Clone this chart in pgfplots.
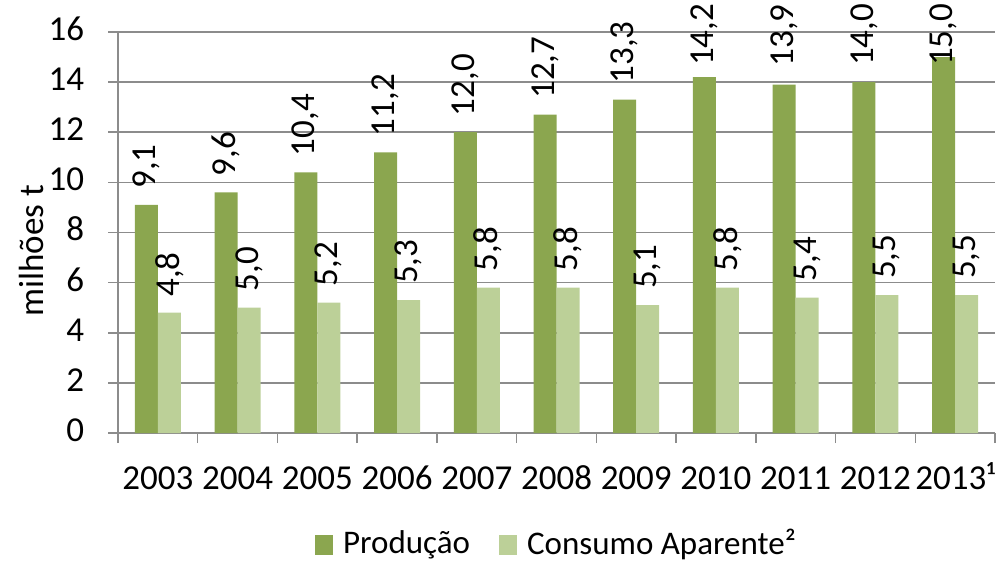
\documentclass[border=0pt]{standalone}
\usepackage{fontspec}
\setmainfont{Carlito}
\usepackage{pgfplots}
\usepackage{pgfplotstable}
\pgfplotsset{compat=1.18}
\definecolor{prod}{HTML}{8BA64F}
\definecolor{cons}{HTML}{BCD098}
\definecolor{gridc}{HTML}{8C8C8C}
\newcommand{\cf}{\fontsize{35bp}{42bp}\selectfont}
\newcommand{\lf}{\fontsize{33bp}{40bp}\selectfont}
% x: category index, y: value, s: label gap (bp)
\pgfplotstableread{
x y s
0 9.1 16
1 9.6 16
2 10.4 16
3 11.2 16
4 12.0 16
5 12.7 16
6 13.3 16
7 14.2 11
8 13.9 18
9 14.0 16
10 15.0 -9
}\prodtab
\pgfplotstableread{
x y s
0 4.8 16
1 5.0 16
2 5.2 16
3 5.3 16
4 5.8 16
5 5.8 16
6 5.1 16
7 5.8 16
8 5.4 16
9 5.5 16
10 5.5 16
}\constab
\begin{document}
\cf
\begin{tikzpicture}
\useasboundingbox (-118bp,-129bp) rectangle (886bp,433bp);
\begin{axis}[
  at={(0,0)}, anchor=south west,
  scale only axis, width=877bp, height=401bp,
  ybar=0pt, bar width=23bp,
  xmin=-0.5, xmax=10.5, ymin=0, ymax=16,
  xtick={0,...,10},
  xticklabels={2003,2004,2005,2006,2007,2008,2009,2010,2011,2012,2013¹},
  minor xtick={-0.5,0.5,...,10.5},
  ytick={0,2,...,16},
  axis x line*=bottom, axis y line*=left,
  ymajorgrids, grid style={gridc, line width=1.5bp},
  axis line style={gridc, line width=1.5bp},
  major x tick style={draw=none},
  minor x tick style={gridc, line width=1.5bp},
  major y tick style={gridc, line width=1.5bp},
  tick align=outside,
  major tick length=10bp, minor tick length=10bp,
  ticklabel style={font=\cf},
  typeset ticklabels with strut,
  xticklabel style={yshift=-5bp},
  yticklabel style={xshift=-12bp},
  /pgf/number format/assume math mode=true,
  ylabel={milhões t},
  ylabel style={font=\cf, at={(axis description cs:-0.0992,0.454)}, anchor=center},
  visualization depends on={\thisrow{s} \as \labsep},
  nodes near coords={\pgfmathprintnumber[fixed,fixed zerofill,precision=1,use comma,assume math mode=true]{\pgfplotspointmeta}},
  every node near coord/.append style={rotate=90, anchor=west, font=\cf, black, inner xsep=\labsep bp},
  legend columns=2,
  legend style={at={(0.5,-0.279)}, anchor=center, draw=none, font=\lf,
    /tikz/every odd column/.append style={column sep=8bp},
    /tikz/every even column/.append style={column sep=27bp}},
  legend image code/.code={\fill[#1] (0bp,-10bp) rectangle (18bp,10bp);},
]
\addplot[fill=prod, draw=none] table[x=x, y=y] {\prodtab};
\addplot[fill=cons, draw=none] table[x=x, y=y] {\constab};
\legend{Produção, Consumo Aparente²}
\end{axis}
\end{tikzpicture}
\end{document}
